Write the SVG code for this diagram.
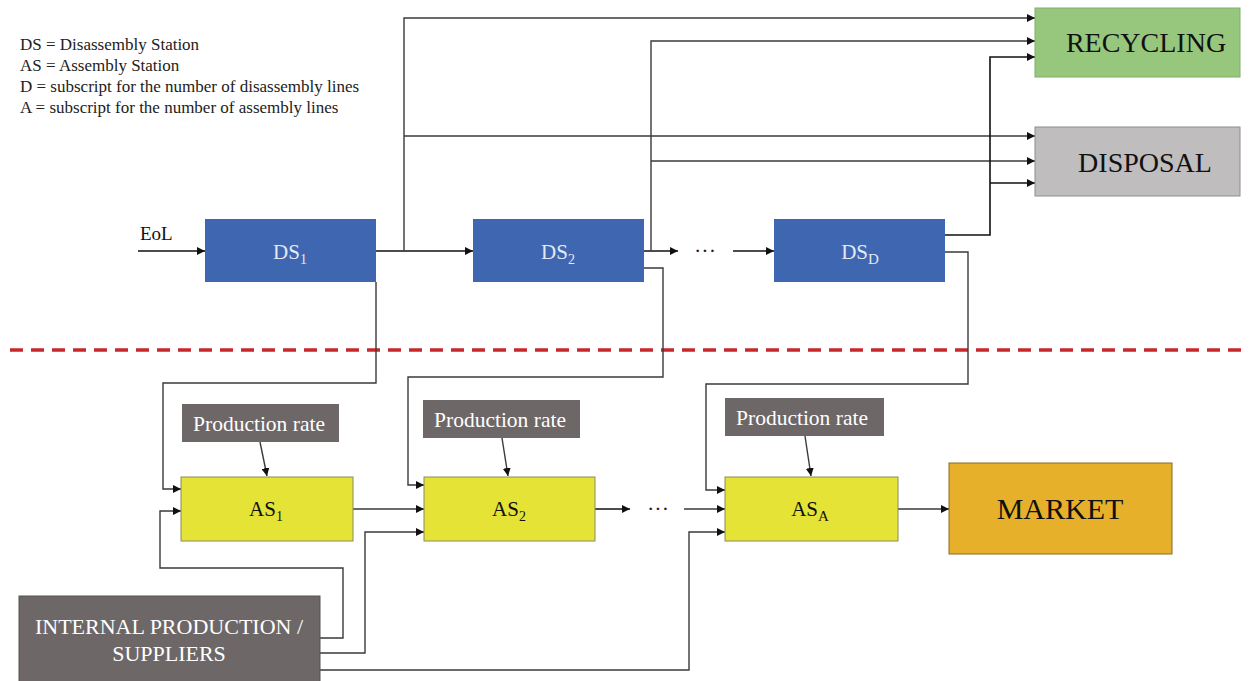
<svg xmlns="http://www.w3.org/2000/svg" width="1252" height="681" viewBox="0 0 1252 681" font-family="'Liberation Serif', 'DejaVu Serif', serif">
<defs>
<marker id="ah" viewBox="0 0 10 10" refX="10" refY="5" markerWidth="8" markerHeight="8" markerUnits="userSpaceOnUse" orient="auto">
<path d="M0,0 L10,5 L0,10 z" fill="#111"/>
</marker>
<style>
text{font-family:'Liberation Serif','DejaVu Serif',serif}
.leg{font-size:17px;fill:#222}
.c{fill:none;stroke:#3a3a3a;stroke-width:1.4}
.m{fill:none;stroke:#111;stroke-width:1.6}
.ds{fill:#3F66B0}
.dst{font-size:21px;fill:#E4E9F3}
.as{fill:#E6E337;stroke:#8a8a60;stroke-width:1}
.ast{font-size:21px;fill:#111}
.pr{fill:#6E6767}
.prt{font-size:21.5px;fill:#fff}
.big{font-size:28px;fill:#111}
</style>
</defs>
<rect width="1252" height="681" fill="#fff"/>

<g id="legend" class="leg">
<text x="20" y="50">DS = Disassembly Station</text>
<text x="20" y="71">AS = Assembly Station</text>
<text x="20" y="92">D = subscript for the number of disassembly lines</text>
<text x="20" y="113">A = subscript for the number of assembly lines</text>
</g>

<line id="divider" x1="10" y1="350" x2="1242" y2="350" stroke="#C8282C" stroke-width="3.5" stroke-dasharray="13,8"/>

<g id="connectors">
<path class="m" d="M138,251 H205" marker-end="url(#ah)"/>
<path class="m" d="M376,251 H473" marker-end="url(#ah)"/>
<path class="c" d="M404,251 V18 H1035" marker-end="url(#ah)"/>
<path class="c" d="M404,136 H1035" marker-end="url(#ah)"/>
<path class="m" d="M644,251 H678" marker-end="url(#ah)"/>
<path class="c" d="M651,251 V41 H1035" marker-end="url(#ah)"/>
<path class="c" d="M651,161 H1035" marker-end="url(#ah)"/>
<path class="m" d="M733,251 H774" marker-end="url(#ah)"/>
<path class="m" d="M945,235 H990 V57 H1035" marker-end="url(#ah)"/>
<path class="m" d="M990,183 H1035" marker-end="url(#ah)"/>
<path class="c" d="M376,282 V383 H163 V489 H181" marker-end="url(#ah)"/>
<path class="c" d="M644,268 H663 V377 H408 V485 H424" marker-end="url(#ah)"/>
<path class="c" d="M945,252 H968 V384 H706 V490 H725" marker-end="url(#ah)"/>
<path class="c" d="M260,442 L267,476" marker-end="url(#ah)"/>
<path class="c" d="M502,438 L508,476" marker-end="url(#ah)"/>
<path class="c" d="M805,436 L811,476" marker-end="url(#ah)"/>
<path class="c" d="M353,509 H424" marker-end="url(#ah)"/>
<path class="m" d="M595,509 H630" marker-end="url(#ah)"/>
<path class="c" d="M684,509 H725" marker-end="url(#ah)"/>
<path class="c" d="M898,509 H949" marker-end="url(#ah)"/>
<path class="c" d="M320,638 H343 V568 H160 V511 H181" marker-end="url(#ah)"/>
<path class="c" d="M320,653 H365 V532 H424" marker-end="url(#ah)"/>
<path class="c" d="M320,670 H689 V532 H725" marker-end="url(#ah)"/>
</g>

<g id="eol"><text x="140" y="240" font-size="19" fill="#111">EoL</text></g>

<g id="ds1"><rect class="ds" x="205" y="219" width="171" height="63"/><text class="dst" x="290" y="259" text-anchor="middle">DS<tspan font-size="14" dy="5">1</tspan></text></g>
<g id="ds2"><rect class="ds" x="473" y="219" width="171" height="63"/><text class="dst" x="558" y="259" text-anchor="middle">DS<tspan font-size="14" dy="5">2</tspan></text></g>
<g id="dots1"><text x="705" y="258" font-size="22" fill="#222" text-anchor="middle">···</text></g>
<g id="dsd"><rect class="ds" x="774" y="219" width="171" height="63"/><text class="dst" x="860" y="259" text-anchor="middle">DS<tspan font-size="15" dy="5">D</tspan></text></g>

<g id="recycling"><rect x="1035" y="8" width="205" height="69" fill="#97C67D" stroke="#7fae6a" stroke-width="1"/><text class="big" x="1146" y="52" text-anchor="middle">RECYCLING</text></g>
<g id="disposal"><rect x="1035" y="127" width="205" height="69" fill="#BFBDBE" stroke="#8e8e8e" stroke-width="1"/><text class="big" x="1145" y="172" text-anchor="middle">DISPOSAL</text></g>

<g id="pr1"><rect class="pr" x="182" y="404" width="157" height="38"/><text class="prt" x="259" y="431" text-anchor="middle">Production rate</text></g>
<g id="pr2"><rect class="pr" x="423" y="400" width="157" height="38"/><text class="prt" x="500" y="427" text-anchor="middle">Production rate</text></g>
<g id="pr3"><rect class="pr" x="725" y="398" width="159" height="38"/><text class="prt" x="802" y="425" text-anchor="middle">Production rate</text></g>

<g id="as1"><rect class="as" x="181" y="477" width="172" height="64"/><text class="ast" x="266" y="516" text-anchor="middle">AS<tspan font-size="14" dy="5">1</tspan></text></g>
<g id="as2"><rect class="as" x="424" y="477" width="171" height="64"/><text class="ast" x="509" y="516" text-anchor="middle">AS<tspan font-size="14" dy="5">2</tspan></text></g>
<g id="dots2"><text x="658" y="516" font-size="22" fill="#222" text-anchor="middle">···</text></g>
<g id="asa"><rect class="as" x="725" y="477" width="173" height="64"/><text class="ast" x="810" y="516" text-anchor="middle">AS<tspan font-size="15" dy="5">A</tspan></text></g>

<g id="market"><rect x="949" y="463" width="223" height="91" fill="#E6B02A" stroke="#8a6a20" stroke-width="1"/><text x="1060" y="519" font-size="30" fill="#111" text-anchor="middle">MARKET</text></g>

<g id="internal"><rect x="19" y="596" width="301" height="90" fill="#6E6767" stroke="#555" stroke-width="1"/><text x="169" y="634" font-size="22" fill="#fff" text-anchor="middle">INTERNAL PRODUCTION /</text><text x="169" y="661" font-size="22" fill="#fff" text-anchor="middle">SUPPLIERS</text></g>
</svg>
